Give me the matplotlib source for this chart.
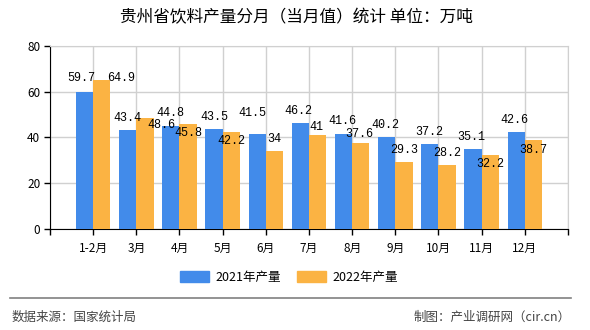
import numpy as np
import matplotlib
matplotlib.use("Agg")
import matplotlib.pyplot as plt
from matplotlib.patches import Patch

plt.rcParams['font.family'] = ['Noto Sans CJK SC', 'DejaVu Sans']

months = ["1-2月", "3月", "4月", "5月", "6月", "7月", "8月", "9月", "10月", "11月", "12月"]
output_2021 = [59.7, 43.4, 44.8, 43.5, 41.5, 46.2, 41.6, 40.2, 37.2, 35.1, 42.6]
output_2022 = [64.9, 48.6, 45.8, 42.2, 34, 41, 37.6, 29.3, 28.2, 32.2, 38.7]

# label nudges in pixels (dx, dy) so the numbers don't collide
nudge_2021 = [(-3, 14), (0, 12), (0, 13), (0, 12), (-5, 21), (-2, 12.5),
              (-1, 12.5), (-1, 12), (-1, 12), (-1.5, 12), (-1.5, 12)]
nudge_2022 = [(19, 2), (16, -7), (0, -9), (0, -9), (0, 12), (-1.5, 8.5),
              (-1.5, 9), (0, 12), (0, 12), (0, -9), (0, -9.5)]

blue = "#428bea"
orange = "#fbb343"

fig = plt.figure(figsize=(5.9, 3.3), dpi=100)
ax = fig.add_axes([0.0847, 0.3052, 0.878, 0.5563])

x = np.arange(len(months))
w = 0.40
ax.bar(x - w / 2, output_2021, width=w, color=blue, zorder=3)
ax.bar(x + w / 2, output_2022, width=w, color=orange, zorder=3)

px = 0.72  # points per pixel at 100 dpi
for i in range(len(months)):
    for vals, nud, off in ((output_2021, nudge_2021, -w / 2), (output_2022, nudge_2022, w / 2)):
        v = vals[i]
        dx, dy = nud[i]
        ax.annotate(f"{v:g}", (x[i] + off, v), xytext=(dx * px, dy * px),
                    textcoords="offset points", ha="center", va="center",
                    fontsize=8.5, family="Liberation Mono", color="black", zorder=5)

ax.set_xlim(-1, 11)
ax.set_ylim(0, 80)
ax.set_yticks(range(0, 81, 20))
ax.set_xticks(np.arange(-1, 12))
ax.set_xticklabels([""] + months + [""])
ax.tick_params(axis="both", direction="out", length=4, width=1, labelsize=8.5, pad=3)
ax.tick_params(axis="x", pad=5)

ax.grid(True, color="#d0d0d0", linewidth=1, zorder=0)
ax.spines["left"].set_color("black")
ax.spines["bottom"].set_color("black")
ax.spines["top"].set_color("#d0d0d0")
ax.spines["right"].set_color("#d0d0d0")

fig.text(0.503, 0.945, "贵州省饮料产量分月（当月值）统计 单位：万吨",
         ha="center", va="center", fontsize=12)

handles = [Patch(color=blue, label="2021年产量"), Patch(color=orange, label="2022年产量")]
fig.legend(handles=handles, loc="center", bbox_to_anchor=(0.49, 0.16), ncol=2,
           frameon=False, fontsize=9, handlelength=2.3, handleheight=1.0,
           columnspacing=1.3, handletextpad=0.5)

fig.add_artist(plt.Line2D([0.017, 0.968], [0.096, 0.096], color="#808080", linewidth=1.2))
fig.text(0.02, 0.04, "数据来源：国家统计局", ha="left", va="center", fontsize=9, color="#444444")
fig.text(0.968, 0.04, "制图：产业调研网（cir.cn）", ha="right", va="center", fontsize=9, color="#444444")

fig.savefig("out.png", dpi=100)
